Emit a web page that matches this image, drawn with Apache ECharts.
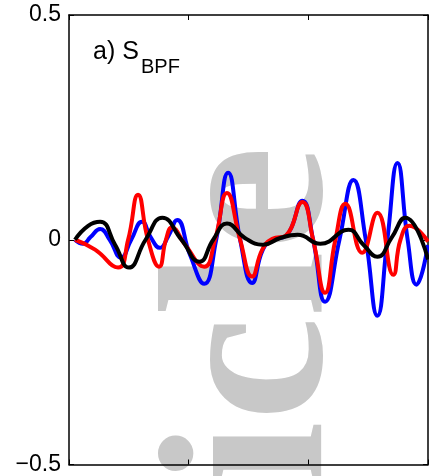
<!DOCTYPE html>
<html>
<head>
<meta charset="utf-8">
<script src="https://cdn.jsdelivr.net/npm/echarts@6/dist/echarts.min.js"></script>
<style>html,body{margin:0;padding:0;background:#fff}#c{width:429px;height:476px}</style>
</head>
<body>
<div id="c"></div>
<script>
// x positions are in arbitrary sample units (0..300), values are S_BPF
const blueData = [
  [5,0],[11.7,-0.009],[18,0.006],[26,0.024],[34,0.0],[43.5,-0.04],[52,0],[61,0.04],[68.6,0.004],
  [76,-0.018],[83,0.008],[90.4,0.044],[101,-0.033],[113,-0.098],[123,0],[133,0.149],[143,0],
  [153,-0.096],[162,-0.022],[170,0],[181.6,0.009],[195,0.087],[204,0],[214,-0.138],[226,0],
  [237.7,0.133],[248,0],[257.7,-0.169],[266,0],[274.5,0.171],[283,0],[290.4,-0.1],[300,-0.012]
];
const redData = [
  [5,0],[21.8,-0.022],[41,-0.062],[49.4,0],[57.7,0.1],[66,0],[75.3,-0.06],[81,0],[86,0.027],
  [97,-0.011],[113,-0.06],[122,0],[132,0.104],[143,0],[153,-0.082],[161.5,-0.022],[170,0.002],
  [181,0.009],[195,0.084],[204,0],[214,-0.118],[222.6,0],[231,0.08],[245,-0.029],[257.7,0.06],
  [271,-0.078],[277,0],[284.5,0.031],[300,-0.004]
];
const blackData = [
  [5,0],[16,0.031],[26,0.04],[38.5,-0.011],[50,-0.062],[64,0],[78,0.049],[94,0],[109,-0.049],
  [120.5,0],[132,0.036],[147,0.004],[162,-0.011],[176.6,0.004],[191,0.011],[210,-0.009],
  [233.5,0.022],[246,-0.011],[257.7,-0.038],[269.5,0.004],[281,0.049],[300,-0.044]
];
const yTicks = [-0.5, 0, 0.5];
const yTickLabels = ['\u22120.5', '0', '0.5'];
const titleMain = 'a) S';
const titleSub = 'BPF';
const watermark = 'Article';

const chart = echarts.init(document.getElementById('c'), null, {renderer: 'canvas'});
const axisLine = {show: true, onZero: false, lineStyle: {color: '#000', width: 1.5}};
const tick = {show: true, inside: true, length: 5, lineStyle: {color: '#000', width: 1}};
chart.setOption({
  animation: false,
  backgroundColor: '#fff',
  grid: {left: 69, top: 15, right: 1, bottom: 11, show: false},
  xAxis: [
    {type: 'value', min: 0, max: 300, interval: 100, position: 'bottom', axisLine, axisTick: tick, axisLabel: {show: false}, splitLine: {show: false}},
    {type: 'value', min: 0, max: 300, interval: 100, position: 'top', axisLine, axisTick: tick, axisLabel: {show: false}, splitLine: {show: false}}
  ],
  yAxis: [
    {type: 'value', min: -0.5, max: 0.5, interval: 0.5, position: 'left', axisLine, axisTick: tick, splitLine: {show: false},
     axisLabel: {color: '#000', fontSize: 23, fontFamily: 'Liberation Sans', margin: 8,
       formatter: v => { const i = yTicks.findIndex(t => Math.abs(t - v) < 1e-9); return i >= 0 ? yTickLabels[i] : ''; }}},
    {type: 'value', min: -0.5, max: 0.5, interval: 0.5, position: 'right', axisLine, axisTick: tick, axisLabel: {show: false}, splitLine: {show: false}}
  ],
  graphic: [
    {type: 'text', z: 0, rotation: Math.PI / 2, x: 260, y: 146,
     style: {text: watermark, fontFamily: 'Liberation Serif', fontWeight: 'bold', fontSize: 236, fill: '#c8c8c8', textAlign: 'right', textVerticalAlign: 'middle'}},
    {type: 'text', z: 10, x: 93, y: 65,
     style: {text: titleMain, fontFamily: 'Liberation Sans', fontSize: 25, fill: '#000', textAlign: 'left', textVerticalAlign: 'bottom'}},
    {type: 'text', z: 10, x: 141, y: 77,
     style: {text: titleSub, fontFamily: 'Liberation Sans', fontSize: 20, fill: '#000', textAlign: 'left', textVerticalAlign: 'bottom'}}
  ],
  series: [
    {type: 'line', data: blueData, smooth: 0.5, showSymbol: false, z: 3, lineStyle: {color: '#0000ff', width: 4}},
    {type: 'line', data: redData, smooth: 0.5, showSymbol: false, z: 4, lineStyle: {color: '#ff0000', width: 4}},
    {type: 'line', data: blackData, smooth: 0.5, showSymbol: false, z: 5, lineStyle: {color: '#000000', width: 4}}
  ]
});
</script>
</body>
</html>
